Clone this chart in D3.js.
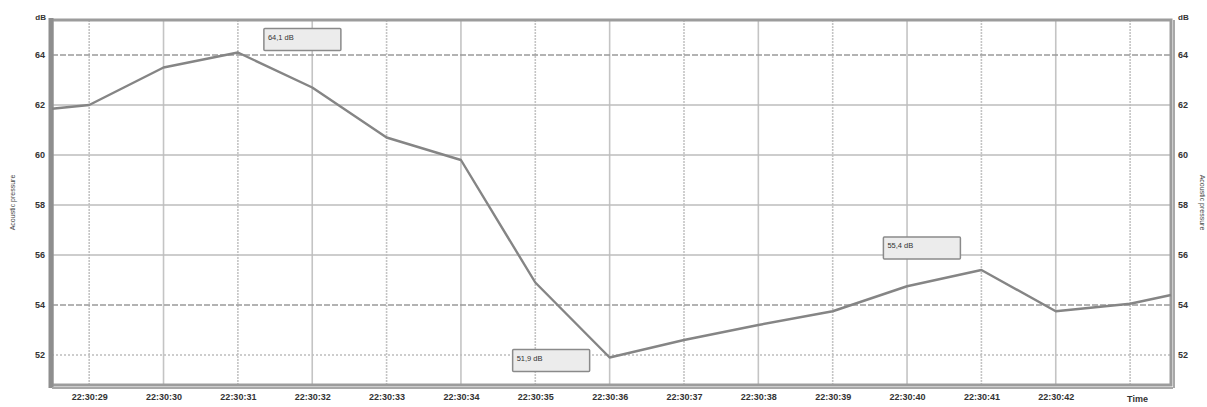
<!DOCTYPE html>
<html><head><meta charset="utf-8">
<script src="https://cdn.jsdelivr.net/npm/d3@7"></script>
<style>
html,body{margin:0;padding:0;background:#fff;}
svg{display:block;font-family:"Liberation Sans",Arial,sans-serif;}
</style></head>
<body><svg id="c" width="1207" height="407"></svg>
<script>
// ---- data ----
const times  = [28.5, 29, 30, 31, 32, 33, 34, 35, 36, 37, 38, 39, 40, 41, 42, 43, 43.55];
const values = [61.85, 62.0, 63.5, 64.1, 62.7, 60.7, 59.8, 54.9, 51.9, 52.6, 53.2, 53.75, 54.75, 55.4, 53.75, 54.05, 54.4];
const tickSeconds = [29, 30, 31, 32, 33, 34, 35, 36, 37, 38, 39, 40, 41, 42];
const tickLabels = ["22:30:29","22:30:30","22:30:31","22:30:32","22:30:33","22:30:34","22:30:35","22:30:36","22:30:37","22:30:38","22:30:39","22:30:40","22:30:41","22:30:42"];
const yTicks = [52, 54, 56, 58, 60, 62, 64];
const annTimes = [31, 36, 41];
const annValues = [64.1, 51.9, 55.4];
const annLabels = ["64,1 dB", "51,9 dB", "55,4 dB"];
const yUnit = "dB";
const xTitle = "Time";
const yTitle = "Acoustic pressure";

// ---- layout ----
const L = 52, R = 1171, T = 20, B = 385;
const svg = d3.select("#c");
const x = d3.scaleLinear().domain([28.5, 43.55]).range([L, R]);
const y = d3.scaleLinear().domain([50.8, 65.4]).range([B, T]);

// grid: vertical
const gridX = tickSeconds.concat([43]);
svg.append("g").selectAll("line").data(gridX).join("line")
  .attr("x1", d => x(d)).attr("x2", d => x(d)).attr("y1", T).attr("y2", B)
  .attr("stroke", "#c4c4c4").attr("stroke-width", 1.6)
  .attr("stroke-dasharray", (d,i) => i % 2 ? null : "2,1");
// grid: horizontal
svg.append("g").selectAll("line").data(yTicks).join("line")
  .attr("x1", L).attr("x2", R).attr("y1", d => y(d)).attr("y2", d => y(d))
  .attr("stroke", d => (d === 54 || d === 64) ? "#9a9a9a" : "#bdbdbd")
  .attr("stroke-width", 1.5)
  .attr("stroke-dasharray", d => (d === 54 || d === 64) ? "6,2" : (d === 52 ? "2,2" : null));

// frame
svg.append("rect").attr("x", L).attr("y", T).attr("width", R - L).attr("height", B - T)
  .attr("fill", "none").attr("stroke", "#9c9c9c").attr("stroke-width", 3);
svg.append("line").attr("x1", L - 1).attr("x2", L - 1).attr("y1", T - 2).attr("y2", B + 3)
  .attr("stroke", "#8e8e8e").attr("stroke-width", 5);
svg.append("line").attr("x1", L).attr("x2", R + 2).attr("y1", B + 3).attr("y2", B + 3)
  .attr("stroke", "#a8a8a8").attr("stroke-width", 2);
svg.append("line").attr("x1", R + 3).attr("x2", R + 3).attr("y1", T).attr("y2", B + 3)
  .attr("stroke", "#a8a8a8").attr("stroke-width", 2);

// data line
const line = d3.line().x((d, i) => x(times[i])).y(d => y(d));
svg.append("path").datum(values).attr("d", line)
  .attr("fill", "none").attr("stroke", "#858585").attr("stroke-width", 2.4)
  .attr("stroke-linejoin", "round");

// axes
const leftAxis = d3.axisLeft(y).tickValues(yTicks).tickSize(0).tickPadding(6).tickFormat(d3.format("d"));
const gl = svg.append("g").attr("transform", `translate(${L - 1},0)`).call(leftAxis);
const rightAxis = d3.axisRight(y).tickValues(yTicks).tickSize(0).tickPadding(6).tickFormat(d3.format("d"));
const gr = svg.append("g").attr("transform", `translate(${R + 1},0)`).call(rightAxis);
const bottomAxis = d3.axisBottom(x).tickValues(tickSeconds).tickSize(0).tickPadding(9)
  .tickFormat((d, i) => tickLabels[i]);
const gb = svg.append("g").attr("transform", `translate(0,${B})`).call(bottomAxis);
[gl, gr, gb].forEach(g => {
  g.select(".domain").remove();
  g.selectAll("text").attr("fill", "#333").style("font-size", "9px").style("font-weight", "bold");
});

// units / titles
svg.append("text").attr("x", L - 6).attr("y", T).attr("text-anchor", "end")
  .attr("fill", "#333").style("font-size", "8px").style("font-weight", "bold").text(yUnit);
svg.append("text").attr("x", R + 7).attr("y", T).attr("text-anchor", "start")
  .attr("fill", "#333").style("font-size", "8px").style("font-weight", "bold").text(yUnit);
svg.append("text").attr("x", x(43.1)).attr("y", B + 17).attr("text-anchor", "middle")
  .attr("fill", "#333").style("font-size", "9px").style("font-weight", "bold").text(xTitle);
svg.append("text").attr("transform", `translate(15,${(T + B) / 2}) rotate(-90)`)
  .attr("text-anchor", "middle").attr("fill", "#444").style("font-size", "7px").text(yTitle);
svg.append("text").attr("transform", `translate(1200,${(T + B) / 2}) rotate(90)`)
  .attr("text-anchor", "middle").attr("fill", "#444").style("font-size", "7px").text(yTitle);

// annotations
const annOffsets = [[26, -24], [-97, -8], [-98, -33]];
const ann = svg.append("g").selectAll("g").data(annLabels).join("g")
  .attr("transform", (d, i) => `translate(${x(annTimes[i]) + annOffsets[i][0]},${y(annValues[i]) + annOffsets[i][1]})`);
ann.append("rect").attr("width", 77).attr("height", 22)
  .attr("fill", "#ececec").attr("stroke", "#8a8a8a").attr("stroke-width", 1.5).attr("rx", 1);
ann.append("text").attr("x", 4).attr("y", 11).attr("fill", "#333")
  .style("font-size", "7.5px").text(d => d);
</script></body></html>
